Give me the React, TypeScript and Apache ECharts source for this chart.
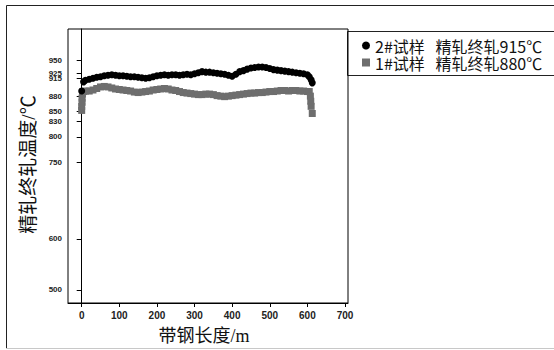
import React, { useEffect, useRef } from "react";
import * as echarts from "echarts";

const xTicks = [0, 100, 200, 300, 400, 500, 600, 700];
const yTicks = [500, 600, 750, 800, 830, 850, 880, 915, 925, 950];

const seriesNames = ["2#试样   精轧终轧915℃", "1#试样   精轧终轧880℃"];

// 2# sample (black circles)
const blackLen = [0, 5, 10, 20, 30, 40, 50, 60, 70, 80, 90, 100, 110, 120, 130, 140, 150, 160, 170, 180, 190, 200, 210, 220, 230, 240, 250, 260, 270, 280, 290, 300, 310, 320, 330, 340, 350, 360, 370, 380, 390, 400, 410, 420, 430, 440, 450, 460, 470, 480, 490, 500, 510, 520, 530, 540, 550, 560, 570, 580, 590, 600, 605, 610, 613];
const blackTemp = [890, 908, 911, 913, 915, 917, 918, 920, 921, 922, 921, 920, 920, 919, 918, 918, 917, 916, 915, 916, 918, 920, 921, 922, 921, 922, 922, 921, 922, 923, 922, 924, 926, 928, 927, 927, 926, 925, 924, 923, 921, 919, 923, 928, 930, 933, 935, 936, 937, 937, 936, 934, 932, 931, 930, 929, 928, 927, 926, 925, 924, 922, 918, 912, 906];

// 1# sample (gray squares)
const grayLen = [0, 0, 1, 1, 2, 3, 5, 10, 20, 30, 40, 50, 60, 70, 80, 90, 100, 110, 120, 130, 140, 150, 160, 170, 180, 190, 200, 210, 220, 230, 240, 250, 260, 270, 280, 290, 300, 310, 320, 330, 340, 350, 360, 370, 380, 390, 400, 410, 420, 430, 440, 450, 460, 470, 480, 490, 500, 510, 520, 530, 540, 550, 560, 570, 580, 590, 600, 605, 608, 609, 610, 613];
const grayTemp = [852, 860, 868, 876, 884, 889, 889, 890, 890, 892, 895, 898, 899, 898, 896, 894, 893, 892, 891, 890, 888, 887, 888, 889, 890, 892, 893, 894, 895, 894, 892, 891, 889, 887, 886, 885, 884, 883, 883, 884, 884, 883, 881, 880, 879, 880, 881, 882, 883, 884, 885, 886, 886, 887, 887, 888, 889, 889, 890, 891, 891, 890, 891, 891, 890, 890, 889, 889, 880, 870, 860, 846];

export default function App() {
  const ref = useRef<HTMLDivElement>(null);
  useEffect(() => {
    document.body.style.margin = "0";
    if (!ref.current) return;
    const chart = echarts.init(ref.current, null, { renderer: "svg" });
    const blackData = blackLen.map((x, i) => [x, blackTemp[i]]);
    const grayData = grayLen.map((x, i) => [x, grayTemp[i]]);
    chart.setOption({
      animation: false,
      backgroundColor: "#fff",
      grid: {
        left: 68,
        right: 206,
        top: 29,
        bottom: 47,
        show: true,
        borderColor: "#000",
        borderWidth: 1,
      },
      xAxis: {
        type: "value",
        min: -36.4,
        max: 708,
        splitLine: { show: false },
        axisLine: { lineStyle: { color: "#000" } },
        axisTick: { show: true, length: 4, customValues: xTicks, lineStyle: { color: "#000" } },
        axisLabel: {
          customValues: xTicks,
          fontSize: 10,
          fontWeight: "bold",
          color: "#222",
          fontFamily: "'Liberation Sans', sans-serif",
          margin: 7,
        },
      },
      yAxis: {
        type: "value",
        min: 474.5,
        max: 1011.6,
        splitLine: { show: false },
        axisLine: { show: true, lineStyle: { color: "#000" } },
        axisTick: { show: true, length: 5, customValues: yTicks, lineStyle: { color: "#000" } },
        axisLabel: {
          customValues: yTicks,
          fontSize: 8,
          fontWeight: "bold",
          color: "#222",
          fontFamily: "'Liberation Sans', sans-serif",
          margin: 6,
          hideOverlap: false,
        },
      },
      legend: {
        orient: "vertical",
        left: 357,
        top: 32,
        itemWidth: 8,
        itemHeight: 8,
        itemGap: 0,
        textStyle: {
          fontSize: 16,
          lineHeight: 17,
          color: "#111",
          fontFamily: "'Noto Sans CJK SC', sans-serif",
        },
        data: [
          { name: seriesNames[0], icon: "circle" },
          { name: seriesNames[1], icon: "rect" },
        ],
      },
      graphic: [
        {
          type: "polyline",
          silent: true,
          shape: { points: [[6.5, 349], [6.5, 5.5], [560, 5.5]] },
          style: { stroke: "#222", lineWidth: 1, fill: null },
        },
        {
          type: "line",
          silent: true,
          shape: { x1: 6, y1: 348.5, x2: 560, y2: 348.5 },
          style: { stroke: "#c8c8c8", lineWidth: 1 },
        },
        {
          type: "rect",
          silent: true,
          z: -1,
          shape: { x: 347.5, y: 31.5, width: 220, height: 44 },
          style: { stroke: "#222", lineWidth: 1, fill: "#fff" },
        },
        {
          type: "text",
          silent: true,
          x: 28,
          y: 164.5,
          rotation: Math.PI / 2,
          style: {
            text: "精轧终轧温度/℃",
            fontSize: 19,
            fill: "#111",
            fontFamily: "'Liberation Serif', 'Noto Sans CJK SC', serif",
            align: "center",
            verticalAlign: "middle",
          },
        },
        {
          type: "text",
          silent: true,
          x: 204,
          y: 336,
          style: {
            text: "带钢长度/m",
            fontSize: 18,
            fill: "#111",
            fontFamily: "'Liberation Serif', 'Noto Sans CJK SC', serif",
            align: "center",
            verticalAlign: "middle",
          },
        },
      ],
      series: [
        {
          name: seriesNames[1],
          type: "scatter",
          symbol: "rect",
          symbolSize: 7,
          itemStyle: { color: "#6e6e6e", opacity: 1 },
          data: grayData,
        },
        {
          name: seriesNames[0],
          type: "scatter",
          symbol: "circle",
          symbolSize: 7,
          itemStyle: { color: "#000", opacity: 1 },
          data: blackData,
        },
      ],
    });
    return () => chart.dispose();
  }, []);
  return <div ref={ref} style={{ width: 554, height: 350 }} />;
}
